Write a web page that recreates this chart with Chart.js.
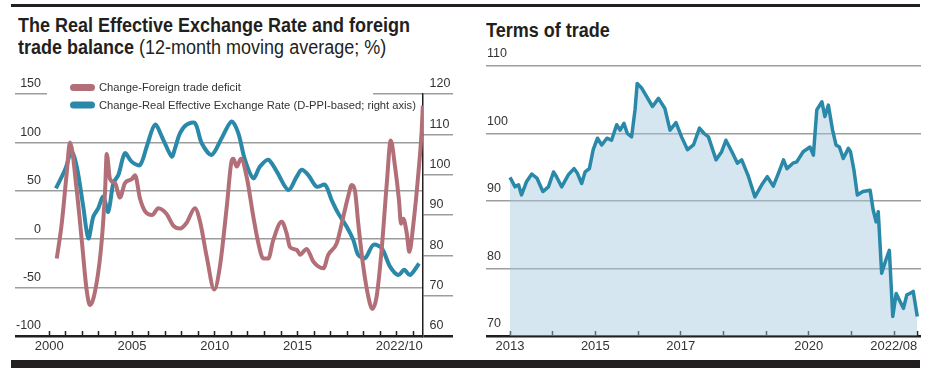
<!DOCTYPE html>
<html>
<head>
<meta charset="utf-8">
<script src="https://cdn.jsdelivr.net/npm/chart.js@4.4.0/dist/chart.umd.min.js"></script>
<style>
html, body { margin: 0; padding: 0; background: #fff; }
body { width: 929px; height: 374px; position: relative; overflow: hidden; color: #231f20; }
.bar { position: absolute; left: 11px; width: 909px; background: #231f20; }
#barTop { top: 4px; height: 3px; }
#barBottom { top: 360px; height: 8px; }
.title { position: absolute; font-family: "Liberation Sans", Arial, sans-serif; font-weight: bold; font-size: 20px; line-height: 22px;
  white-space: nowrap; transform: scaleX(0.9); transform-origin: 0 0; }
.title span { font-weight: normal; }
#t1 { left: 18px; top: 14px; }
#t2 { left: 486px; top: 19px; }
canvas { position: absolute; top: 0; }
#c1 { left: 0; }
#c2 { left: 470px; }
</style>
</head>
<body>
<div class="bar" id="barTop"></div>
<div class="title" id="t1">The Real Effective Exchange Rate and foreign<br>trade balance <span>(12-month moving average; %)</span></div>
<div class="title" id="t2">Terms of trade</div>
<canvas id="c1" width="470" height="374"></canvas>
<canvas id="c2" width="459" height="374"></canvas>
<div class="bar" id="barBottom"></div>
<script>
// ---- left chart: change in foreign trade deficit vs REER (12-month moving average)
const tradeLabel = 'Change-Foreign trade deficit'
const tradeDates = [2000.45, 2000.75, 2001.05, 2001.25, 2001.66, 2001.96, 2002.26, 2002.46, 2002.86, 2003.17,
  2003.37, 2003.47, 2003.67, 2003.97, 2004.27, 2004.57, 2004.98, 2005.18, 2005.48, 2005.78,
  2006.21, 2006.59, 2007.09, 2007.49, 2007.90, 2008.30, 2008.80, 2009.11, 2009.51, 2009.97,
  2010.31, 2010.72, 2011.02, 2011.12, 2011.32, 2011.58, 2011.93, 2012.33, 2012.63, 2012.93,
  2013.23, 2013.53, 2014.04, 2014.34, 2014.54, 2014.95, 2015.15, 2015.55, 2015.95, 2016.56,
  2016.86, 2017.37, 2017.76, 2018.07, 2018.27, 2018.47, 2018.67, 2018.97, 2019.27, 2019.52,
  2019.78, 2020.08, 2020.39, 2020.63, 2020.89, 2021.13, 2021.25, 2021.39, 2021.60, 2021.75,
  2022.00, 2022.30, 2022.50, 2022.57]
const tradeDeficitChange = [-20, 16, 68, 100, 50, -1, -53, -68, -45, -1,
  50, 88, 62, 58, 43, 58, 62, 66, 42, 29,
  25, 32, 26, 14, 11, 17, 32, 18, -18, -52,
  -28, 33, 81, 83, 75, 83, 64, 23, -4, -20,
  -20, -1, 18, 6, -8, -11, -16, -10, -23, -30,
  -16, -4, 23, 45, 56, 50, 16, -28, -59, -72,
  -59, -11, 57, 102, 75, 40, 16, 21, 6, -13,
  16, 68, 112, 138]

const reerLabel = 'Change-Real Effective Exchange Rate (D-PPI-based; right axis)'
const reerDates = [2000.40, 2000.95, 2001.35, 2001.66, 2002.05, 2002.36, 2002.66, 2002.96, 2003.26, 2003.56,
  2003.87, 2004.17, 2004.57, 2004.98, 2005.48, 2005.89, 2006.39, 2006.89, 2007.40, 2007.60,
  2007.90, 2008.30, 2008.80, 2009.21, 2009.81, 2010.42, 2011.02, 2011.42, 2011.82, 2012.33,
  2012.73, 2013.23, 2013.74, 2014.44, 2014.95, 2015.25, 2015.65, 2016.16, 2016.66, 2017.06,
  2017.46, 2017.97, 2018.37, 2018.67, 2019.08, 2019.58, 2020.08, 2020.59, 2021.09, 2021.45,
  2021.79, 2022.34]
const reerChange = [96.6, 101.2, 105.7, 102, 92.1, 84.2, 89.6, 91.7, 94.6, 90.8,
  97.9, 99.9, 105.3, 103.2, 102.4, 107, 112.4, 108.6, 104.5, 106.6,
  110.3, 112.4, 112.8, 107.8, 104.9, 109.1, 113.2, 110.3, 103.7, 99.1,
  102, 103.7, 100.8, 96.2, 99.5, 101.2, 99.9, 97, 97.5, 93.7,
  90.4, 87.1, 83.8, 80.1, 79.3, 82.6, 81.8, 77.2, 75.1, 76.4,
  75.1, 78]

const leftYTicks = [-100, -50, 0, 50, 100, 150]
const rightYTicks = [60, 70, 80, 90, 100, 110, 120]
const leftLabelYears = [2000, 2005, 2010, 2015]
const leftEndLabel = '2022/10'

// ---- right chart: terms of trade
const totDates = [2013.00, 2013.12, 2013.20, 2013.27, 2013.39, 2013.51, 2013.63, 2013.77, 2013.90, 2014.02,
  2014.09, 2014.21, 2014.37, 2014.50, 2014.58, 2014.68, 2014.76, 2014.86, 2014.95, 2015.05,
  2015.15, 2015.27, 2015.38, 2015.50, 2015.58, 2015.67, 2015.75, 2015.85, 2015.93, 2015.98,
  2016.09, 2016.20, 2016.34, 2016.48, 2016.63, 2016.75, 2016.89, 2017.02, 2017.16, 2017.30,
  2017.44, 2017.55, 2017.65, 2017.83, 2017.96, 2018.06, 2018.20, 2018.33, 2018.43, 2018.59,
  2018.74, 2018.90, 2019.03, 2019.17, 2019.29, 2019.41, 2019.49, 2019.63, 2019.72, 2019.87,
  2020.03, 2020.11, 2020.19, 2020.31, 2020.38, 2020.46, 2020.56, 2020.64, 2020.72, 2020.81,
  2020.93, 2020.98, 2021.06, 2021.14, 2021.27, 2021.44, 2021.51, 2021.58, 2021.63, 2021.71,
  2021.81, 2021.89, 2021.97, 2022.05, 2022.22, 2022.30, 2022.37, 2022.45, 2022.545]
const totIndex = [93.5, 92.1, 92.4, 90.9, 92.9, 94.0, 93.4, 91.4, 92.1, 94.3,
  93.6, 92.1, 93.9, 94.8, 94.1, 92.6, 94.3, 94.8, 97.6, 99.3,
  98.3, 99.3, 99.0, 101.3, 100.5, 101.5, 100.0, 99.5, 103.5, 107.4,
  106.7, 105.5, 104.0, 105.2, 103.7, 100.5, 101.6, 99.5, 97.6, 98.3,
  100.8, 100.0, 99.5, 96.1, 97.3, 99.0, 97.3, 95.6, 96.1, 93.6,
  90.6, 92.4, 93.6, 92.2, 94.1, 96.1, 94.8, 95.6, 95.8, 97.3,
  98.0, 96.8, 103.5, 104.7, 102.5, 104.2, 100.5, 98.3, 98.0, 96.3,
  97.8, 97.3, 94.6, 90.9, 91.4, 91.6, 88.7, 86.9, 88.4, 79.3,
  81.3, 82.7, 72.9, 76.3, 74.1, 76.1, 76.3, 76.6, 72.9]
const totYTicks = [70, 80, 90, 100, 110]
const totLabelYears = [2013, 2015, 2017, 2020]
const totEndLabel = '2022/08'

const PINK = '#b26f78'
const BLUE = '#2a88a8'
const GRID = '#9d9d9d'
const INK = '#231f20'
const NONE = 'rgba(0,0,0,0)'

Chart.defaults.font.family = '"Liberation Sans", Arial, sans-serif'
Chart.defaults.color = '#333'

function range(a, b) {
    const r = []
    for (let v = a; v <= b; v++) r.push(v)
    return r
}

function xy(xs, ys) {
    return xs.map((x, i) => ({ x: x, y: ys[i] }))
}

// year tick marks, plus a hidden one at the scale start and one at the last observation
function yearAxis(firstYear, lastYear, lastDate, labelYears, endLabel, showEndMark) {
    return {
        type: 'linear',
        afterBuildTicks: s => {
            s.ticks = [{ value: s.min }]
                .concat(range(firstYear, lastYear).map(v => ({ value: v })))
                .concat([{ value: lastDate }])
        },
        afterFit: s => { s.height = 38 },
        border: { display: false },
        grid: {
            drawOnChartArea: false,
            tickLength: -5,
            tickWidth: 1.5,
            tickColor: c => {
                if (!c.tick) return INK
                if (c.tick.value === c.scale.min) return NONE
                if (c.tick.value === lastDate && !showEndMark) return NONE
                return INK
            }
        },
        ticks: {
            autoSkip: false,
            maxRotation: 0,
            align: 'inner',
            padding: 8,
            font: { size: 13 },
            callback: v => v === lastDate ? endLabel : (labelYears.includes(v) ? String(v) : '')
        }
    }
}

function gridStyle(bottomValue) {
    return {
        color: c => c.tick && c.tick.value === bottomValue ? INK : GRID,
        lineWidth: c => c.tick && c.tick.value === bottomValue ? 2.5 : 1.5
    }
}

const pillLegend = {
    id: 'pillLegend',
    beforeDatasetsDraw(chart, args, o) {
        const ctx = chart.ctx
        ctx.save()
        ctx.fillStyle = '#fff'
        ctx.fillRect(o.maskLeft, chart.chartArea.top - 4, o.maskRight - o.maskLeft, 8)
        ctx.restore()
    },
    afterDraw(chart, args, o) {
        const ctx = chart.ctx
        ctx.save()
        ctx.font = o.fontSize + 'px "Liberation Sans", Arial, sans-serif'
        ctx.textBaseline = 'middle'
        chart.data.datasets.forEach((ds, i) => {
            const y = o.top + i * o.rowHeight
            ctx.fillStyle = ds.borderColor
            ctx.beginPath()
            if (ctx.roundRect) ctx.roundRect(o.left, y - 3.5, 25, 7, 3.5)
            else ctx.rect(o.left, y - 3.5, 25, 7)
            ctx.fill()
            ctx.fillStyle = '#333'
            ctx.fillText(ds.label, o.left + 29, y + 0.5)
        })
        ctx.restore()
    }
}

const leftX = yearAxis(2000, 2022, tradeDates[tradeDates.length - 1], leftLabelYears, leftEndLabel, false)
leftX.min = 1999.74
leftX.max = 2022.58

new Chart(document.getElementById('c1'), {
    type: 'line',
    data: {
        datasets: [
            { label: tradeLabel, data: xy(tradeDates, tradeDeficitChange), yAxisID: 'y', borderColor: PINK, backgroundColor: PINK,
              borderWidth: 4, pointRadius: 0, cubicInterpolationMode: 'monotone' },
            { label: reerLabel, data: xy(reerDates, reerChange), yAxisID: 'y1', borderColor: BLUE, backgroundColor: BLUE,
              borderWidth: 4, pointRadius: 0, tension: 0.3 }
        ]
    },
    options: {
        responsive: false,
        animation: false,
        devicePixelRatio: 1,
        layout: { padding: { top: 94, left: 0, right: 0, bottom: 0 } },
        plugins: {
            legend: { display: false },
            tooltip: { enabled: false },
            pillLegend: { left: 70, top: 87.5, rowHeight: 17.5, fontSize: 11.2, maskLeft: 47, maskRight: 373 }
        },
        scales: {
            x: leftX,
            y: {
                position: 'left', min: -100, max: 150,
                afterBuildTicks: s => { s.ticks = leftYTicks.map(v => ({ value: v })) },
                afterFit: s => { s.width = 45 },
                border: { display: false },
                grid: Object.assign({ tickLength: 30 }, gridStyle(-100)),
                ticks: { padding: -26, labelOffset: -10, font: { size: 12.5 } }
            },
            y1: {
                position: 'right', min: 60, max: 120,
                afterBuildTicks: s => { s.ticks = rightYTicks.map(v => ({ value: v })) },
                afterFit: s => { s.width = 47 },
                border: { display: true, color: INK, width: 1.5 },
                grid: Object.assign({ drawOnChartArea: false, tickLength: 30 }, gridStyle(60)),
                ticks: { padding: -23.5, labelOffset: -10, font: { size: 12.5 } }
            }
        }
    },
    plugins: [pillLegend]
})

const rightX = yearAxis(2013, 2022, totDates[totDates.length - 1], totLabelYears, totEndLabel, true)
rightX.min = 2012.4375
rightX.max = 2022.632

new Chart(document.getElementById('c2'), {
    type: 'line',
    data: {
        datasets: [
            { label: 'Terms of trade', data: xy(totDates, totIndex), borderColor: BLUE,
              backgroundColor: 'rgba(163, 200, 222, 0.45)', fill: 'start',
              borderWidth: 3.5, pointRadius: 0, tension: 0, borderJoinStyle: 'round' }
        ]
    },
    options: {
        responsive: false,
        animation: false,
        devicePixelRatio: 1,
        layout: { padding: { top: 66, left: 16, right: 8, bottom: 0 } },
        plugins: { legend: { display: false }, tooltip: { enabled: false } },
        scales: {
            x: rightX,
            y: {
                position: 'left', min: 70, max: 110,
                afterBuildTicks: s => { s.ticks = totYTicks.map(v => ({ value: v })) },
                afterFit: s => { s.width = 0 },
                border: { display: false },
                grid: Object.assign({ drawTicks: false }, gridStyle(70)),
                ticks: { mirror: true, padding: 1, labelOffset: -12, font: { size: 12.5 } }
            }
        }
    }
})
</script>
</body>
</html>
